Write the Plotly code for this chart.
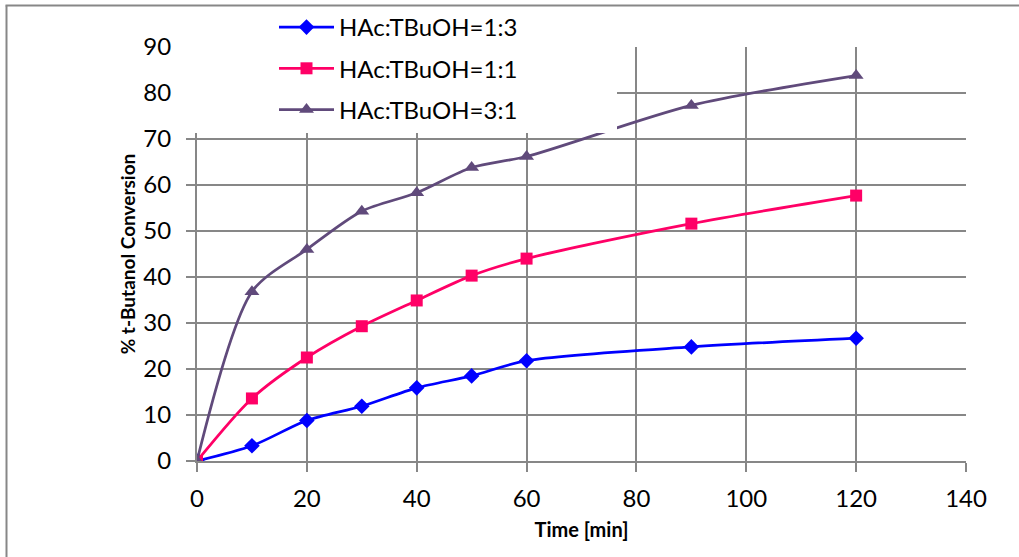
import plotly.graph_objects as go

# Reaction time [min]
time_min = [0, 10, 20, 30, 40, 50, 60, 90, 120]

# % t-butanol conversion for each acid:alcohol molar ratio
conv_1_3 = [0, 3.3, 8.8, 11.9, 15.9, 18.5, 21.8, 24.8, 26.7]
conv_1_1 = [0, 13.6, 22.5, 29.3, 34.9, 40.3, 44.0, 51.6, 57.7]
conv_3_1 = [0, 36.8, 46.0, 54.3, 58.3, 63.8, 66.2, 77.3, 83.8]

series_names = ["HAc:TBuOH=1:3", "HAc:TBuOH=1:1", "HAc:TBuOH=3:1"]
series_values = [conv_1_3, conv_1_1, conv_3_1]
colors = ["#0000FF", "#FF0066", "#604A7B"]
symbols = ["diamond", "square", "triangle-up"]
marker_sizes = [12, 12, 13]

x_ticks = [0, 20, 40, 60, 80, 100, 120, 140]
y_ticks = [0, 10, 20, 30, 40, 50, 60, 70, 80, 90]

FONT = "Lato"
GRID = "#878787"

fig = go.Figure()
for name, vals, col, sym, ms in zip(series_names, series_values, colors, symbols, marker_sizes):
    fig.add_trace(go.Scatter(
        x=time_min, y=vals, name=name, mode="lines+markers",
        line=dict(color=col, width=2.75, shape="spline", smoothing=0.8),
        marker=dict(symbol=sym, size=ms, color=col),
        legendgroup=name,
    ))

W, H = 1019, 557
L, R, T, B = 197, 53, 47, 96
pw, ph = W - L - R, H - T - B


def px_x(p):
    return (p - L) / pw


def px_y(p):
    return (H - B - p) / ph


fig.update_layout(
    width=W, height=H,
    margin=dict(l=L, r=R, t=T, b=B, autoexpand=False),
    paper_bgcolor="white", plot_bgcolor="white",
    font=dict(family=FONT, color="#000000"),
    showlegend=True,
    legend=dict(
        x=px_x(274), y=px_y(5), xanchor="left", yanchor="top",
        bgcolor="rgba(0,0,0,0)", font=dict(size=24, family=FONT),
        traceorder="grouped", tracegroupgap=7, itemwidth=55,
    ),
    xaxis=dict(
        range=[0, 140], tickvals=x_ticks, showgrid=True, gridcolor=GRID, gridwidth=2,
        showline=True, linecolor=GRID, linewidth=2, zeroline=False,
        ticks="outside", ticklen=9, tickwidth=2, tickcolor=GRID,
        tickfont=dict(size=24, family=FONT), ticklabelstandoff=6,
        title=dict(text="<b>Time [min]</b>", font=dict(size=20, family=FONT), standoff=12),
    ),
    yaxis=dict(
        range=[0, 90], tickvals=y_ticks, showgrid=True, gridcolor=GRID, gridwidth=2,
        showline=True, linecolor=GRID, linewidth=2, zeroline=False,
        ticks="outside", ticklen=9, tickwidth=2, tickcolor=GRID,
        tickfont=dict(size=24, family=FONT), ticklabelstandoff=10,
        title=dict(text="<b>% t-Butanol Conversion</b>", font=dict(size=19, family=FONT), standoff=3),
    ),
    shapes=[
        # white panel behind the legend
        dict(type="rect", xref="paper", yref="paper", layer="above",
             x0=px_x(180), x1=px_x(617), y0=px_y(133), y1=px_y(7),
             fillcolor="white", line=dict(width=0)),
        # chart frame: left and top edges
        dict(type="line", xref="paper", yref="paper", layer="above",
             x0=px_x(6.5), x1=px_x(6.5), y0=px_y(560), y1=px_y(5.5),
             line=dict(color=GRID, width=2)),
        dict(type="line", xref="paper", yref="paper", layer="above",
             x0=px_x(5.5), x1=px_x(1025), y0=px_y(5.5), y1=px_y(5.5),
             line=dict(color=GRID, width=2)),
    ],
)

fig.write_html("out.html")
